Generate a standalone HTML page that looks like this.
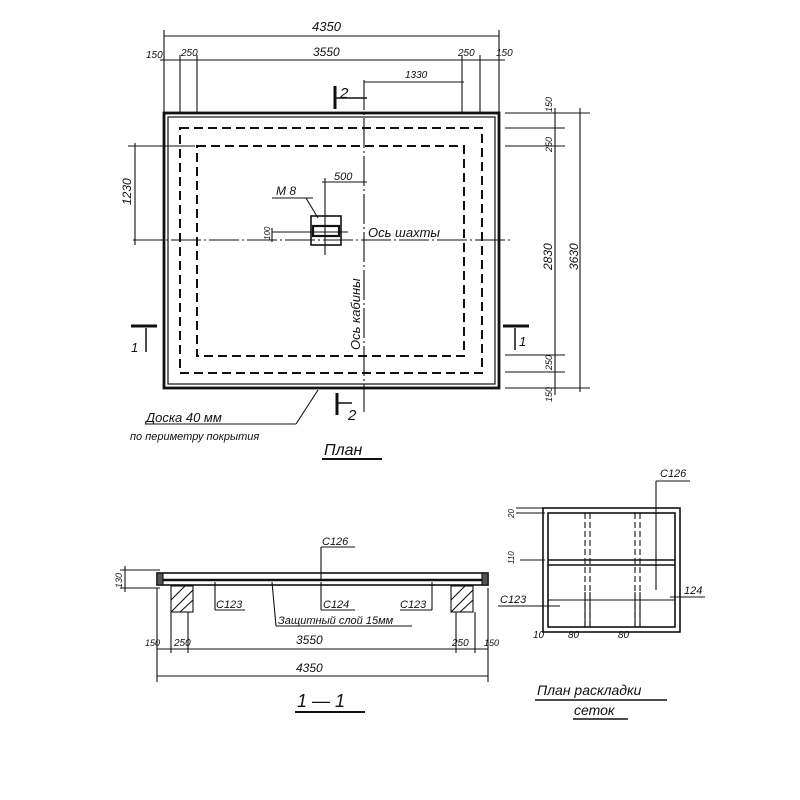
<!DOCTYPE html>
<html><head><meta charset="utf-8"><style>
body{margin:0;background:#fff}
svg{display:block}
text{font-family:"Liberation Sans","DejaVu Sans",sans-serif;font-style:italic;fill:#111}
</style></head><body>
<svg width="800" height="800" viewBox="0 0 800 800" xmlns="http://www.w3.org/2000/svg">
<g stroke="#111" fill="none" stroke-width="1.1">
<line x1="164" y1="36" x2="499" y2="36"/>
<line x1="160" y1="60" x2="505" y2="60"/>
<line x1="364" y1="82" x2="464" y2="82"/>
<line x1="164" y1="30" x2="164" y2="112"/>
<line x1="499" y1="30" x2="499" y2="112"/>
<line x1="180" y1="55" x2="180" y2="112"/>
<line x1="197" y1="55" x2="197" y2="112"/>
<line x1="462" y1="55" x2="462" y2="112"/>
<line x1="480" y1="55" x2="480" y2="112"/>
<rect x="164" y="113" width="335" height="275" stroke-width="2.8"/>
<rect x="168" y="117" width="327" height="267" stroke-width="1.2"/>
<rect x="180" y="128" width="302" height="245" stroke-width="2" stroke-dasharray="9,5"/>
<rect x="197" y="146" width="267" height="210" stroke-width="2" stroke-dasharray="9,5"/>
<line x1="364" y1="80" x2="364" y2="412" stroke-dasharray="30,3,2,3"/>
<line x1="133" y1="240" x2="512" y2="240" stroke-dasharray="30,3,2,3"/>
<line x1="135" y1="143" x2="135" y2="245"/>
<line x1="128" y1="146" x2="195" y2="146"/>
<line x1="505" y1="113" x2="590" y2="113"/>
<line x1="505" y1="128" x2="565" y2="128"/>
<line x1="505" y1="146" x2="565" y2="146"/>
<line x1="505" y1="355" x2="565" y2="355"/>
<line x1="505" y1="372" x2="565" y2="372"/>
<line x1="505" y1="388" x2="590" y2="388"/>
<line x1="555" y1="108" x2="555" y2="395"/>
<line x1="580" y1="108" x2="580" y2="392"/>
<rect x="311" y="216" width="30" height="29" stroke-width="1.6"/>
<rect x="313" y="226" width="26" height="10" stroke-width="2.2"/>
<line x1="325" y1="178" x2="325" y2="255"/>
<line x1="322" y1="182" x2="367" y2="182"/>
<line x1="272" y1="232" x2="348" y2="232"/>
<line x1="272" y1="228" x2="272" y2="242"/>
<line x1="272" y1="198" x2="313" y2="198"/>
<line x1="306" y1="198" x2="318" y2="218"/>
<line x1="335" y1="86" x2="335" y2="109" stroke-width="3"/>
<line x1="335" y1="98" x2="367" y2="98" stroke-width="1.5"/>
<line x1="337" y1="393" x2="337" y2="415" stroke-width="3"/>
<line x1="337" y1="403" x2="352" y2="403" stroke-width="1.5"/>
<line x1="131" y1="326" x2="157" y2="326" stroke-width="3"/>
<line x1="146" y1="328" x2="146" y2="352" stroke-width="1.5"/>
<line x1="503" y1="326" x2="529" y2="326" stroke-width="3"/>
<line x1="515" y1="328" x2="515" y2="350" stroke-width="1.5"/>
<line x1="145" y1="424" x2="296" y2="424"/>
<line x1="296" y1="424" x2="318" y2="390"/>
<line x1="322" y1="459" x2="382" y2="459" stroke-width="2"/>
<rect x="157" y="573" width="331" height="12" stroke-width="1.6"/>
<line x1="163" y1="580" x2="482" y2="580" stroke-width="2.5"/>
<rect x="157" y="573" width="6" height="12" fill="#555"/>
<rect x="482" y="573" width="6" height="12" fill="#555"/>
<rect x="171" y="586" width="22" height="26"/>
<rect x="451" y="586" width="22" height="26"/>
<path d="M171 600 L185 586 M171 612 L193 590 M180 612 L193 600 M451 600 L465 586 M451 612 L473 590 M460 612 L473 600"/>
<line x1="120" y1="570" x2="160" y2="570"/>
<line x1="120" y1="588" x2="160" y2="588"/>
<line x1="125" y1="566" x2="125" y2="592"/>
<line x1="321" y1="547" x2="355" y2="547"/>
<line x1="321" y1="547" x2="321" y2="580"/>
<line x1="215" y1="582" x2="215" y2="610"/><line x1="215" y1="610" x2="245" y2="610"/>
<line x1="321" y1="582" x2="321" y2="610"/><line x1="321" y1="610" x2="355" y2="610"/>
<line x1="432" y1="582" x2="432" y2="610"/><line x1="400" y1="610" x2="432" y2="610"/>
<line x1="272" y1="582" x2="276" y2="626"/><line x1="276" y1="626" x2="412" y2="626"/>
<line x1="157" y1="588" x2="157" y2="682"/>
<line x1="488" y1="588" x2="488" y2="682"/>
<line x1="171" y1="612" x2="171" y2="653"/>
<line x1="188" y1="612" x2="188" y2="653"/>
<line x1="456" y1="612" x2="456" y2="653"/>
<line x1="475" y1="612" x2="475" y2="653"/>
<line x1="157" y1="649" x2="488" y2="649"/>
<line x1="157" y1="676" x2="488" y2="676"/>
<line x1="295" y1="712" x2="365" y2="712" stroke-width="2"/>
<rect x="543" y="508" width="137" height="124" stroke-width="1.6"/>
<rect x="548" y="513" width="127" height="114" stroke-width="1.6"/>
<line x1="548" y1="560" x2="675" y2="560" stroke-width="1.6"/>
<line x1="548" y1="565" x2="675" y2="565" stroke-width="1.6"/>
<line x1="585" y1="513" x2="585" y2="627" stroke-dasharray="6,3"/>
<line x1="590" y1="513" x2="590" y2="627" stroke-dasharray="6,3"/>
<line x1="635" y1="513" x2="635" y2="627" stroke-dasharray="6,3"/>
<line x1="640" y1="513" x2="640" y2="627" stroke-dasharray="6,3"/>
<line x1="585" y1="592" x2="585" y2="627"/><line x1="590" y1="592" x2="590" y2="627"/>
<line x1="635" y1="592" x2="635" y2="627"/><line x1="640" y1="592" x2="640" y2="627"/>
<line x1="548" y1="600" x2="675" y2="600"/>
<line x1="516" y1="508" x2="545" y2="508"/>
<line x1="516" y1="513" x2="545" y2="513"/>
<line x1="520" y1="560" x2="545" y2="560"/>
<line x1="656" y1="481" x2="690" y2="481"/>
<line x1="656" y1="481" x2="656" y2="590"/>
<line x1="498" y1="606" x2="560" y2="606"/>
<line x1="670" y1="597" x2="705" y2="597"/>
<line x1="535" y1="700" x2="667" y2="700" stroke-width="1.5"/>
<line x1="573" y1="719" x2="628" y2="719" stroke-width="1.5"/>
</g>
<g font-size="11">
<text x="312" y="31" font-size="13">4350</text>
<text x="146" y="58" font-size="10">150</text>
<text x="181" y="56" font-size="10">250</text>
<text x="313" y="56" font-size="12">3550</text>
<text x="458" y="56" font-size="10">250</text>
<text x="496" y="56" font-size="10">150</text>
<text x="405" y="78" font-size="10">1330</text>
<text x="340" y="98" font-size="15">2</text>
<text x="348" y="420" font-size="15">2</text>
<text x="131" y="352" font-size="13">1</text>
<text x="519" y="346" font-size="13">1</text>
<text x="334" y="180">500</text>
<text x="276" y="195" font-size="12">M 8</text>
<text x="368" y="237" font-size="13">Ось шахты</text>
<text transform="translate(360,350) rotate(-90)" font-size="13">Ось кабины</text>
<text transform="translate(131,205) rotate(-90)" font-size="12">1230</text>
<text transform="translate(270,240) rotate(-90)" font-size="8">100</text>
<text transform="translate(552,112) rotate(-90)" font-size="9">150</text>
<text transform="translate(552,152) rotate(-90)" font-size="9">250</text>
<text transform="translate(552,270) rotate(-90)" font-size="12">2830</text>
<text transform="translate(578,270) rotate(-90)" font-size="12">3630</text>
<text transform="translate(552,370) rotate(-90)" font-size="9">250</text>
<text transform="translate(552,402) rotate(-90)" font-size="9">150</text>
<text x="146" y="422" font-size="13">Доска 40 мм</text>
<text x="130" y="440" font-size="11">по периметру покрытия</text>
<text x="324" y="455" font-size="16">План</text>
<text x="322" y="545">С126</text>
<text x="216" y="608">С123</text>
<text x="323" y="608">С124</text>
<text x="400" y="608">С123</text>
<text x="278" y="624">Защитный слой 15мм</text>
<text transform="translate(122,588) rotate(-90)" font-size="9">130</text>
<text x="145" y="646" font-size="9">150</text>
<text x="174" y="646" font-size="10">250</text>
<text x="296" y="644" font-size="12">3550</text>
<text x="452" y="646" font-size="10">250</text>
<text x="484" y="646" font-size="9">150</text>
<text x="296" y="672" font-size="12">4350</text>
<text x="297" y="707" font-size="18" font-style="normal">1 — 1</text>
<text x="660" y="477">С126</text>
<text x="684" y="594">124</text>
<text x="500" y="603">С123</text>
<text transform="translate(514,518) rotate(-90)" font-size="8">20</text>
<text transform="translate(514,564) rotate(-90)" font-size="8">110</text>
<text x="533" y="638" font-size="10">10</text>
<text x="568" y="638" font-size="10">80</text>
<text x="618" y="638" font-size="10">80</text>
<text x="537" y="695" font-size="14">План раскладки</text>
<text x="574" y="715" font-size="14">сеток</text>
</g>
</svg>
</body></html>
